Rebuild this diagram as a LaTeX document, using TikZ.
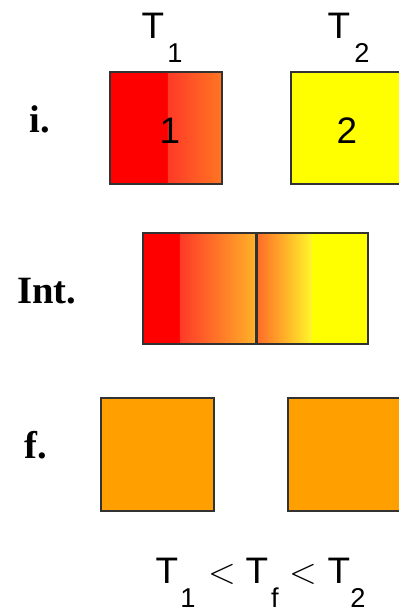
\documentclass[tikz,border=0pt]{standalone}
\usepackage{fontspec}
\setmainfont{Liberation Serif}
\setsansfont{Liberation Sans}
\usetikzlibrary{positioning}
\definecolor{hotred}{RGB}{255,0,0}
\definecolor{warmred}{RGB}{255,58,40}
\definecolor{warmorange}{RGB}{255,118,34}
\definecolor{midorange}{RGB}{255,178,40}
\definecolor{lateorange}{RGB}{255,108,40}
\definecolor{paleyellow}{RGB}{255,246,42}
\definecolor{coldyellow}{RGB}{255,255,0}
\definecolor{finalorange}{RGB}{255,160,0}
\definecolor{edgegray}{RGB}{50,50,50}

\begin{document}
\begin{tikzpicture}[x=0.02cm,y=-0.02cm,line cap=round,
  every node/.style={inner sep=0pt},
  boxline/.style={draw=edgegray,line width=0.6pt},
  rowlabel/.style={font=\fontsize{22}{22}\selectfont\bfseries,anchor=base},
  bigsans/.style={font=\sffamily\fontsize{21}{21}\selectfont,anchor=base},
  subsans/.style={font=\sffamily\fontsize{15.5}{15.5}\selectfont,anchor=base}]
 \useasboundingbox (0,0) rectangle (399,610);
 \clip (0,0) rectangle (399,610);
 % initial state
 \fill[hotred] (110,72) rectangle (168,184);
 \shade[left color=warmred,right color=warmorange] (168,72) rectangle (222,184);
 \draw[boxline] (110,72) rectangle (222,184);
 \fill[coldyellow] (291,72) rectangle (403,184);
 \draw[boxline] (291,72) rectangle (403,184);
 \node[bigsans] (one) at (170,143) {1};
 \node[bigsans] (two) at (347,143) {2};
 \node[bigsans] (tA) at (153,38) {T};
 \node[subsans] (tAsub) at (175,62) {1};
 \node[bigsans] (tB) at (339,38) {T};
 \node[subsans] (tBsub) at (362,62) {2};
 \node[rowlabel] (lbli) at (40,132) {i.};
 % intermediate state
 \fill[hotred] (143,233) rectangle (180,344);
 \shade[left color=warmred,right color=midorange] (180,233) rectangle (256,344);
 \shade[left color=lateorange,right color=paleyellow] (257,233) rectangle (312,344);
 \fill[coldyellow] (312,233) rectangle (368,344);
 \draw[boxline] (143,233) rectangle (256,344);
 \draw[boxline] (257,233) rectangle (368,344);
 \node[rowlabel] (lblint) at (47,303) {Int.};
 % final state
 \draw[boxline,fill=finalorange] (101,398) rectangle (214,511);
 \draw[boxline,fill=finalorange] (288,398) rectangle (401,511);
 \node[rowlabel] (lblf) at (36,458) {f.};
 % relation
 \node[bigsans] (rA) at (167,583) {T};
 \node[subsans] (rAsub) at (188,607) {1};
 \node[bigsans] (ltA) at (222,583) {$<$};
 \node[bigsans] (rF) at (257,583) {T};
 \node[subsans] (rFsub) at (275,607) {f};
 \node[bigsans] (ltB) at (303,583) {$<$};
 \node[bigsans] (rB) at (339,583) {T};
 \node[subsans] (rBsub) at (358,607) {2};
\end{tikzpicture}
\end{document}
